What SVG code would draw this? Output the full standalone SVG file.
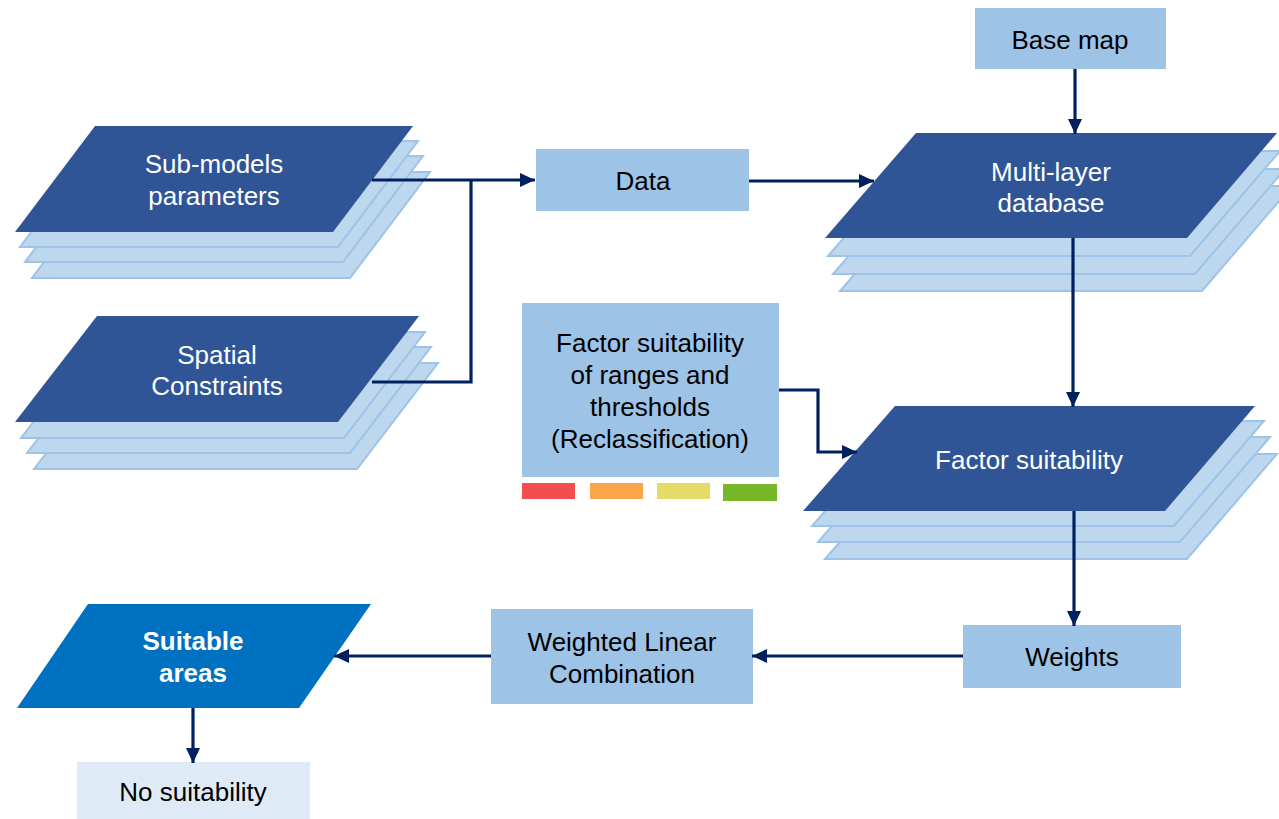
<svg xmlns="http://www.w3.org/2000/svg" width="1279" height="819" viewBox="0 0 1279 819">
  <style>
    .layer { fill: #BDD7EE; stroke: #9DC3E6; stroke-width: 2; }
    .plate { fill: #2F5597; }
    .box { fill: #9DC3E6; }
    .lbl { font-family: "Liberation Sans", Arial, sans-serif; font-size: 26px; text-anchor: middle; }
    .dark { fill: #000000; }
    .light { fill: #FFFFFF; }
    .conn { fill: none; stroke: #002060; stroke-width: 3.2; }
  </style>
  <defs>
    <marker id="arrow" markerUnits="userSpaceOnUse" markerWidth="16" markerHeight="14" refX="15" refY="7" orient="auto">
      <path d="M0,0 L15,7 L0,14 Z" fill="#002060"/>
    </marker>
  </defs>

  <rect width="1279" height="819" fill="#FFFFFF"/>

  <!-- stacked layer: Sub-models parameters -->
  <g id="submodels">
    <polygon class="layer" points="95,126 413,126 333,232 15,232" transform="translate(17,46)"/>
    <polygon class="layer" points="95,126 413,126 333,232 15,232" transform="translate(10,30)"/>
    <polygon class="layer" points="95,126 413,126 333,232 15,232" transform="translate(5,15)"/>
    <polygon class="plate" points="95,126 413,126 333,232 15,232"/>
    <text class="lbl light" x="214" y="173">Sub-models</text>
    <text class="lbl light" x="214" y="205">parameters</text>
  </g>

  <!-- stacked layer: Spatial Constraints -->
  <g id="spatial">
    <polygon class="layer" points="97,316 419,316 338,422 15,422" transform="translate(19,47)"/>
    <polygon class="layer" points="97,316 419,316 338,422 15,422" transform="translate(12,31)"/>
    <polygon class="layer" points="97,316 419,316 338,422 15,422" transform="translate(6,16)"/>
    <polygon class="plate" points="97,316 419,316 338,422 15,422"/>
    <text class="lbl light" x="217" y="364">Spatial</text>
    <text class="lbl light" x="217" y="395">Constraints</text>
  </g>

  <!-- Data -->
  <g id="data">
    <rect class="box" x="536" y="149" width="213" height="62"/>
    <text class="lbl dark" x="643" y="190">Data</text>
  </g>

  <!-- Base map -->
  <g id="basemap">
    <rect class="box" x="975" y="8" width="191" height="61"/>
    <text class="lbl dark" x="1070" y="49">Base map</text>
  </g>

  <!-- stacked layer: Multi-layer database -->
  <g id="multilayer">
    <polygon class="layer" points="916,133 1277,133 1187,238 825,238" transform="translate(15,53)"/>
    <polygon class="layer" points="916,133 1277,133 1187,238 825,238" transform="translate(8,36)"/>
    <polygon class="layer" points="916,133 1277,133 1187,238 825,238" transform="translate(3,18)"/>
    <polygon class="plate" points="916,133 1277,133 1187,238 825,238"/>
    <text class="lbl light" x="1051" y="181">Multi-layer</text>
    <text class="lbl light" x="1051" y="212">database</text>
  </g>

  <!-- Reclassification box with class colour swatches -->
  <g id="reclass">
    <rect class="box" x="522" y="303" width="257" height="174"/>
    <text class="lbl dark" x="650" y="352">Factor suitability</text>
    <text class="lbl dark" x="650" y="384">of ranges and</text>
    <text class="lbl dark" x="650" y="416">thresholds</text>
    <text class="lbl dark" x="650" y="448">(Reclassification)</text>
    <rect x="522" y="483" width="53" height="16" fill="#F24D4F"/>
    <rect x="590" y="483" width="53" height="16" fill="#FBA54B"/>
    <rect x="657" y="483" width="53" height="16" fill="#E6DB69"/>
    <rect x="723" y="484" width="54" height="17" fill="#77B82A"/>
  </g>

  <!-- stacked layer: Factor suitability -->
  <g id="factor">
    <polygon class="layer" points="895,406 1255,406 1165,511 803,511" transform="translate(22,48)"/>
    <polygon class="layer" points="895,406 1255,406 1165,511 803,511" transform="translate(15,31)"/>
    <polygon class="layer" points="895,406 1255,406 1165,511 803,511" transform="translate(9,15)"/>
    <polygon class="plate" points="895,406 1255,406 1165,511 803,511"/>
    <text class="lbl light" x="1029" y="469">Factor suitability</text>
  </g>

  <!-- Weights -->
  <g id="weights">
    <rect class="box" x="963" y="625" width="218" height="63"/>
    <text class="lbl dark" x="1072" y="666">Weights</text>
  </g>

  <!-- Weighted Linear Combination -->
  <g id="wlc">
    <rect class="box" x="491" y="609" width="262" height="95"/>
    <text class="lbl dark" x="622" y="651">Weighted Linear</text>
    <text class="lbl dark" x="622" y="683">Combination</text>
  </g>

  <!-- Suitable areas -->
  <g id="suitable">
    <polygon points="88,604 371,604 299,708 17,708" fill="#0070C0"/>
    <text class="lbl light" x="193" y="650" font-weight="bold">Suitable</text>
    <text class="lbl light" x="193" y="682" font-weight="bold">areas</text>
  </g>

  <!-- No suitability -->
  <g id="nosuitability">
    <rect x="77" y="762" width="233" height="57" fill="#DEEBF7"/>
    <text class="lbl dark" x="193" y="801">No suitability</text>
  </g>

  <!-- connectors -->
  <g id="connectors">
    <path class="conn" d="M372,180 H535" marker-end="url(#arrow)"/>
    <path class="conn" d="M372,382 H471 V180"/>
    <path class="conn" d="M749,181 H874" marker-end="url(#arrow)"/>
    <path class="conn" d="M1075,69 V134" marker-end="url(#arrow)"/>
    <path class="conn" d="M1073,238 V407" marker-end="url(#arrow)"/>
    <path class="conn" d="M779,390 H818 V452 H857" marker-end="url(#arrow)"/>
    <path class="conn" d="M1074,511 V626" marker-end="url(#arrow)"/>
    <path class="conn" d="M963,656 H752" marker-end="url(#arrow)"/>
    <path class="conn" d="M491,656 H334" marker-end="url(#arrow)"/>
    <path class="conn" d="M193,708 V763" marker-end="url(#arrow)"/>
  </g>
</svg>
